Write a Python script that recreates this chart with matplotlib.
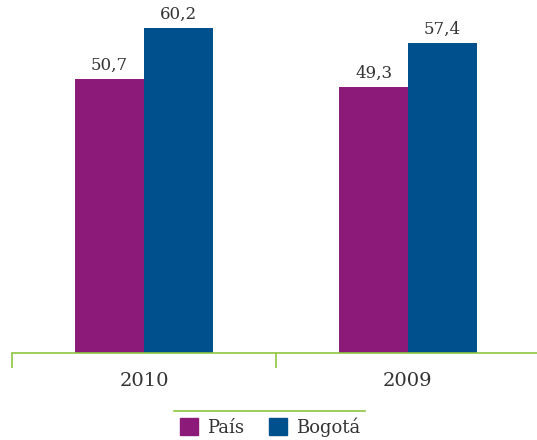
import matplotlib
matplotlib.use("Agg")
import matplotlib.pyplot as plt
from matplotlib.lines import Line2D
from matplotlib.patches import Patch
import numpy as np

# data
years = ["2010", "2009"]
pais = [50.7, 49.3]
bogota = [60.2, 57.4]
series_names = ["País", "Bogotá"]

c_pais = "#8c1a78"
c_bog = "#00508e"
green = "#8dc63f"
txt = "#333333"

plt.rcParams['font.family'] = ['DejaVu Serif']

fig = plt.figure(figsize=(5.37, 4.4), dpi=100)
ax = fig.add_axes([12/537, 87/440, 528/537, 353/440])

x = np.arange(len(years))
w = 0.26
b1 = ax.bar(x - w/2, pais, w, color=c_pais)
b2 = ax.bar(x + w/2, bogota, w, color=c_bog)

for bars, vals in ((b1, pais), (b2, bogota)):
    for r, v in zip(bars, vals):
        ax.text(r.get_x() + r.get_width()/2, v + 1.0, f"{v:.1f}".replace(".", ","),
                ha="center", va="bottom", fontsize=12, color=txt)

ax.set_xlim(-0.5, 1.5)
ax.set_ylim(0, 65.4)
for s in ["top", "right", "left"]:
    ax.spines[s].set_visible(False)
ax.spines["bottom"].set_color(green)
ax.spines["bottom"].set_linewidth(1.2)
ax.set_yticks([])

ax.set_xticks([-0.5, 0.5])
ax.set_xticklabels([])
ax.tick_params(axis="x", which="major", length=11, color=green, width=1.2)
ax.set_xticks(x, minor=True)
ax.set_xticklabels(years, minor=True, fontsize=14, color=txt)
ax.tick_params(axis="x", which="minor", length=0, pad=14)

# legend with a green rule above it
fig.add_artist(Line2D([174/537, 365/537], [1 - 411/440, 1 - 411/440],
                      color=green, lw=1.2, transform=fig.transFigure))
handles = [Patch(color=c_pais), Patch(color=c_bog)]
fig.legend(handles, series_names, loc="center", bbox_to_anchor=(270/537, 1 - 427/440),
           ncol=2, frameon=False, fontsize=13, handlelength=1.0, handleheight=1.0,
           handletextpad=0.5, columnspacing=1.4, labelcolor=txt)

fig.savefig("out.png", dpi=100)
